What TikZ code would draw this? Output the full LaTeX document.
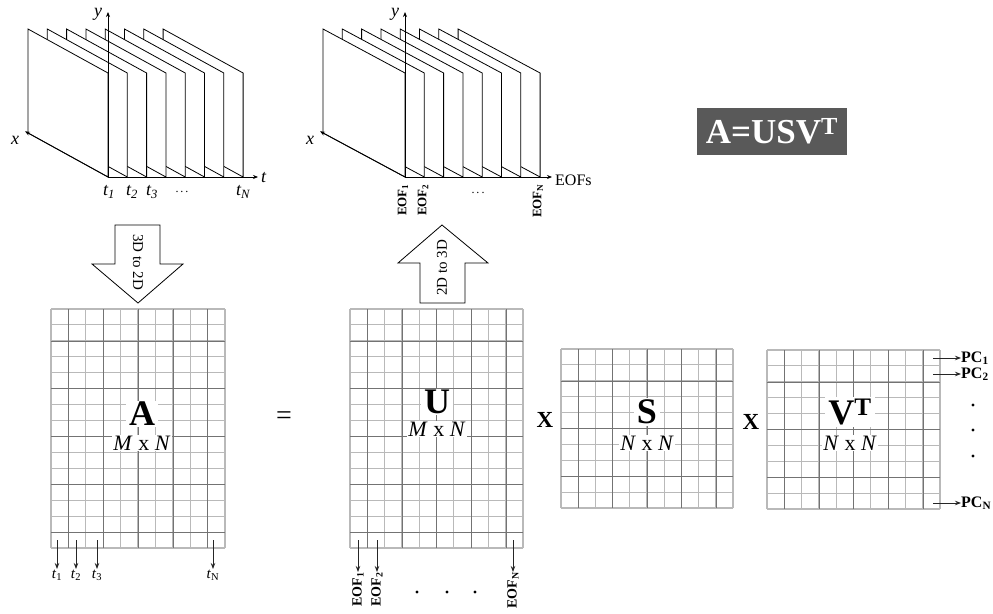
\documentclass[tikz,border=0pt]{standalone}
\usepackage{fontspec}
\setmainfont{Liberation Serif}
\usetikzlibrary{arrows.meta}
\newcommand{\gridmat}[6]{%
  \pgfmathsetmacro\gdx{(#3-#1)/#5}%
  \pgfmathsetmacro\gdy{(#4-#2)/#6}%
  \foreach \i in {0,...,#5} {\draw[gridlight] ({#1+\i*\gdx},#2) -- ({#1+\i*\gdx},#4);}
  \foreach \j in {0,...,#6} {\draw[gridlight] (#1,{#2+\j*\gdy}) -- (#3,{#2+\j*\gdy});}
  \foreach \i in {1,3,...,#5} {\draw[griddark] ({#1+\i*\gdx},#2) -- ({#1+\i*\gdx},#4);}
  \foreach \j in {2,5,...,#6} {\draw[griddark] (#1,{#2+\j*\gdy}) -- (#3,{#2+\j*\gdy});}
}
\begin{document}
\begin{tikzpicture}[x=1pt,y=-1pt,
  frame/.style={draw=black, fill=white, line width=0.8pt, line join=miter},
  axis/.style={draw=black, line width=0.8pt, -{Stealth[length=5pt,width=4pt]}},
  arr/.style={draw=black!85, line width=0.9pt, -{Stealth[length=6pt,width=4.5pt]}},
  gridlight/.style={draw=gray!55, line width=1.1pt},
  griddark/.style={draw=black!55, line width=0.4pt},
  blockarrow/.style={draw=black, fill=white, line width=0.8pt, line join=miter},
  big/.style={font=\fontsize{36}{38}\selectfont\bfseries, fill=white, inner xsep=3pt, inner ysep=1.5pt},
  dim/.style={font=\fontsize{22}{24}\selectfont, fill=white, inner sep=1pt},
  axlab/.style={font=\fontsize{18}{20}\selectfont\itshape, inner sep=0pt},
  tlab/.style={font=\fontsize{18}{20}\selectfont\itshape, inner sep=1pt},
  tlabb/.style={font=\fontsize{15}{17}\selectfont, inner sep=1pt},
  eoflab/.style={font=\fontsize{13}{15}\selectfont\bfseries, rotate=90, anchor=east, inner sep=0pt},
  eoflabb/.style={font=\fontsize{14}{16}\selectfont\bfseries, rotate=90, anchor=east, inner sep=0pt},
  pclab/.style={font=\fontsize{16}{18}\selectfont\bfseries, anchor=west, inner sep=0pt},
  oplab/.style={font=\fontsize{23}{25}\selectfont\bfseries, inner sep=0pt},
  arrlab/.style={font=\fontsize{15}{17}\selectfont, inner sep=0pt},
  dot/.style={fill=black, draw=none}
]
\useasboundingbox (0,0) rectangle (993,613);

% ---------- stack 1 (time frames)
\foreach \i in {7,6,...,0} {
  \pgfmathsetmacro\xl{28+\i*19.3}
  \draw[frame] (\xl,29) -- ({\xl+80},73) -- ({\xl+80},177) -- (\xl,133) -- cycle;
}
\coordinate (o1) at (108,177);
\coordinate (y1) at (108,12);
\coordinate (t1end) at (258,177);
\coordinate (x1end) at (25,131.3);
\draw[axis] (o1) -- (y1);
\draw[axis] (o1) -- (t1end);
\draw[axis] (o1) -- (x1end);
\node[axlab] (ylab1) at (98,14) {y};
\node[axlab] (xlab1) at (15,140) {x};
\node[axlab, anchor=west] (tlab1) at (261,178) {t};
\node[tlab] (tt1) at (109,192) {t\textsubscript{1}};
\node[tlab] (tt2) at (132,192) {t\textsubscript{2}};
\node[tlab] (tt3) at (152,192) {t\textsubscript{3}};
\node[tlab] (ttd) at (182,192) {\fontsize{12}{12}\selectfont\upshape .\,.\,.};
\node[tlab] (ttN) at (243,192) {t\textsubscript{N}};

% ---------- stack 2 (EOFs)
\foreach \i in {7,6,...,0} {
  \pgfmathsetmacro\xl{323+\i*19.3}
  \draw[frame] (\xl,29) -- ({\xl+82},73) -- ({\xl+82},177) -- (\xl,133) -- cycle;
}
\coordinate (o2) at (405,177);
\coordinate (y2) at (405,12);
\coordinate (e2end) at (552,177);
\coordinate (x2end) at (320,131.3);
\draw[axis] (o2) -- (y2);
\draw[axis] (o2) -- (e2end);
\draw[axis] (o2) -- (x2end);
\node[axlab] (ylab2) at (395,14) {y};
\node[axlab] (xlab2) at (310,140) {x};
\node[arrlab, anchor=west, font=\fontsize{16}{18}\selectfont] (eofs) at (555,180) {EOFs};
\node[eoflab] (te1) at (403,184) {EOF\textsubscript{1}};
\node[eoflab] (te2) at (423,184) {EOF\textsubscript{2}};
\node[eoflab] (teN) at (538,184) {EOF\textsubscript{N}};
\node[tlab] (ted) at (478,193) {\fontsize{12}{12}\selectfont\upshape .\,.\,.};

% ---------- formula box
\node[fill=black!65, text=white, minimum width=150pt, minimum height=47pt, inner sep=0pt,
      font=\fontsize{35}{37}\selectfont\bfseries] (formula) at (772,131.5) {A=USV\textsuperscript{T}};

% ---------- block arrows
\draw[blockarrow] (115,225) -- (160,225) -- (160,264) -- (183,264) -- (138,303) -- (92,264) -- (115,264) -- cycle;
\node[arrlab, rotate=-90] (a32) at (138,262) {3D to 2D};
\draw[blockarrow] (442,225) -- (488,263) -- (465,263) -- (465,303) -- (420,303) -- (420,263) -- (398,263) -- cycle;
\node[arrlab, rotate=90] (a23) at (442,268) {2D to 3D};

% ---------- matrices
\gridmat{51}{309}{225}{548}{10}{15}
\gridmat{350}{309}{523}{548}{10}{15}
\gridmat{561}{349}{733}{508}{10}{10}
\gridmat{767}{350}{940}{509}{10}{10}

\node[big] (Alab) at (142,414) {A};
\node[dim] (Adim) at (142,443) {\textit{M} x \textit{N}};
\node[big] (Ulab) at (437,402) {U};
\node[dim] (Udim) at (437,429) {\textit{M} x \textit{N}};
\node[big] (Slab) at (647,412) {S};
\node[dim] (Sdim) at (647,443) {\textit{N} x \textit{N}};
\node[big] (Vlab) at (850,412) {V\textsuperscript{T}};
\node[dim] (Vdim) at (850,443) {\textit{N} x \textit{N}};

\node[font=\fontsize{28}{30}\selectfont, inner sep=0pt] (eq) at (284,418) {=};
\node[oplab] (x1) at (545,420) {X};
\node[oplab] (x2) at (751,422) {X};

% ---------- arrows below A
\foreach \n/\x/\s in {b1/57/1, b2/76/2, b3/97/3, bN/213/N} {
  \coordinate (\n s) at (\x,540);
  \node[tlabb, anchor=north] (\n) at (\x,569) {\textit{t}\textsubscript{\ifx N\s\textit{N}\else\s\fi}};
  \draw[arr] (\n s) -- (\n.north);
}

% ---------- arrows below U
\foreach \n/\x/\s in {u1/358/1, u2/377/2, uN/513/N} {
  \coordinate (\n s) at (\x,540);
  \node[eoflabb] (\n) at (\x,572) {EOF\textsubscript{\s}};
  \draw[arr] (\n s) -- (\n.east);
}
\foreach \n/\x in {bd1/417, bd2/447, bd3/475} {\fill[dot] (\x,592) circle (1.7pt);}

% ---------- PC arrows
\foreach \n/\y/\s in {p1/358/1, p2/374/2, pN/503/N} {
  \coordinate (\n s) at (933,\y);
  \node[pclab] (\n) at (961,\y) {PC\textsubscript{\s}};
  \draw[arr] (\n s) -- (\n.west);
}
\foreach \n/\y in {pd1/405, pd2/430, pd3/456} {\fill[dot] (973,\y) circle (1.7pt);}
\end{tikzpicture}
\end{document}
